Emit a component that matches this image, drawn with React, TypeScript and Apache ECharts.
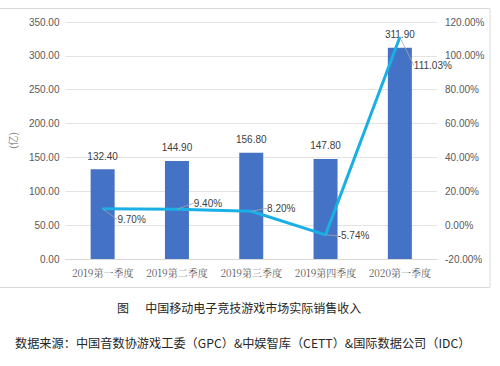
import React, { useEffect, useRef } from "react";
import * as echarts from "echarts";

const categories = ["2019第一季度", "2019第二季度", "2019第三季度", "2019第四季度", "2020第一季度"];
const revenue = [132.4, 144.9, 156.8, 147.8, 311.9];
const growth = [9.7, 9.4, 8.2, -5.74, 111.03];
const labelOffsets = [
  [29, 11],
  [31, -6],
  [30, -3],
  [28, 1],
  [33, 28],
];
const caption = "图      中国移动电子竞技游戏市场实际销售收入";
const source = "数据来源：中国音数协游戏工委（GPC）&中娱智库（CETT）&国际数据公司（IDC）";

const FONT = "'Liberation Sans', 'Noto Sans CJK SC', sans-serif";

export default function App() {
  const ref = useRef<HTMLDivElement>(null);
  useEffect(() => {
    if (!ref.current) return;
    const chart = echarts.init(ref.current, null, { renderer: "svg" });
    chart.setOption({
      animation: false,
      backgroundColor: "#ffffff",
      textStyle: { fontFamily: FONT },
      grid: { left: 58, right: 63, top: 22, bottom: 107 },
      xAxis: {
        type: "category",
        data: categories,
        axisTick: { show: false },
        axisLine: { show: true, lineStyle: { color: "#d9d9d9" } },
        axisLabel: { color: "#595959", fontSize: 10, margin: 8, interval: 0, fontFamily: "'Noto Serif CJK SC', 'Noto Sans CJK SC', serif" },
      },
      yAxis: [
        {
          type: "value",
          min: 0,
          max: 350,
          interval: 50,
          name: "(亿)",
          nameLocation: "middle",
          nameRotate: 90,
          nameGap: 44,
          nameTextStyle: { color: "#8c8c8c", fontSize: 10 },
          axisLine: { show: false },
          axisTick: { show: false },
          axisLabel: { color: "#595959", fontSize: 10, formatter: (v: number) => v.toFixed(2), margin: 6 },
          splitLine: { lineStyle: { color: "#e3e3e3", width: 1 } },
        },
        {
          type: "value",
          min: -20,
          max: 120,
          interval: 20,
          position: "right",
          axisLine: { show: false },
          axisTick: { show: false },
          axisLabel: { color: "#595959", fontSize: 10, formatter: (v: number) => v.toFixed(2) + "%", margin: 8 },
          splitLine: { show: false },
        },
      ],
      series: [
        {
          type: "bar",
          data: revenue,
          barWidth: 24,
          itemStyle: { color: "#4472c4" },
          label: {
            show: true,
            position: "top",
            distance: 8,
            color: "#404040",
            fontSize: 10,
            formatter: (p: any) => Number(p.value).toFixed(2),
          },
          z: 2,
        },
        {
          type: "line",
          yAxisIndex: 1,
          data: growth,
          symbol: "circle",
          symbolSize: 1,
          itemStyle: { color: "#1ab0e6" },
          lineStyle: { color: "#1ab0e6", width: 3 },
          label: {
            show: true,
            position: "inside",
            color: "#404040",
            fontSize: 10,
            formatter: (p: any) => Number(p.value).toFixed(2) + "%",
          },
          labelLine: { show: true, lineStyle: { color: "#a6a6a6", width: 0.8 } },
          labelLayout: (params: any) => {
            const o = labelOffsets[params.dataIndex] || [0, 0];
            return { dx: o[0], dy: o[1] };
          },
          z: 3,
        },
      ],
      graphic: [
        {
          type: "rect",
          shape: { x: -2, y: 8.5, width: 492, height: 279 },
          style: { fill: "none", stroke: "#d9d9d9", lineWidth: 1 },
          silent: true,
        },
        {
          type: "text",
          x: 117,
          y: 307,
          style: { text: caption, fill: "#262626", fontSize: 12, fontFamily: "'Noto Sans CJK SC', sans-serif", verticalAlign: "middle" },
        },
        {
          type: "text",
          x: 15,
          y: 343,
          style: { text: source, fill: "#262626", fontSize: 12.2, fontFamily: "'Noto Sans CJK SC', sans-serif", verticalAlign: "middle" },
        },
      ],
    });
    return () => chart.dispose();
  }, []);
  return <div ref={ref} style={{ position: "fixed", left: 0, top: 0, width: 500, height: 366 }} />;
}
